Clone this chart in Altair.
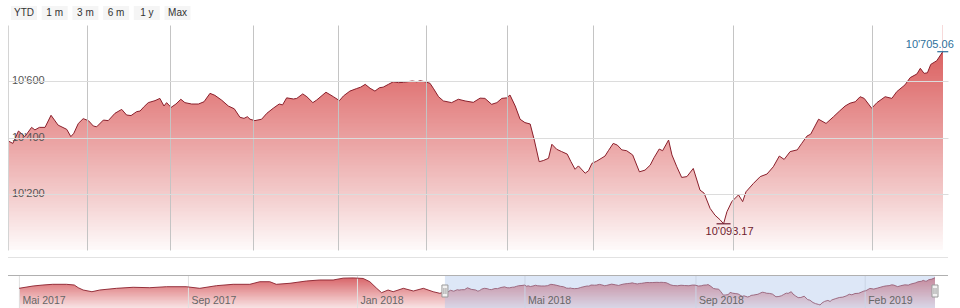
import altair as alt
import numpy as np
import pandas as pd

# ---------------- data ----------------
# earlier history (only visible in the navigator), trading-day index relative to selection start
pre_t = [-217.2, -210, -205, -200, -193, -189, -187, -184.5, -180, -176, -167.5, -159, -150.5,
         -142, -132, -125, -116.5, -108, -99.5, -94.4, -89.3, -86, -79, -70.6, -63.8, -57,
         -51.9, -46.8, -41.7, -38.3, -34.8, -32.3, -29, -26.4, -21.2, -16.1, -11, -6, -2.6]
pre_v = [10467, 10519, 10541, 10557, 10557, 10541, 10481, 10429, 10391, 10429, 10467, 10490, 10481,
         10503, 10503, 10467, 10526, 10557, 10557, 10615, 10615, 10557, 10580, 10631, 10654, 10654,
         10695, 10700, 10688, 10615, 10467, 10369, 10429, 10391, 10467, 10407, 10467, 10391, 10355]

# selected (main chart) period
main_t = [0, 1.3, 2.8, 4.5, 6.3, 7.2, 8.4, 9.9, 11.5, 13.4,
          15.7, 16.8, 17.6, 18.8, 20.1, 21.5, 22.8, 23.7, 25.5, 26.8,
          28.6, 30.4, 31.7, 32.9, 34.4, 35.3, 36.4, 37.5, 39.3, 40.6,
          41.7, 42.4, 43.6, 44.9, 46.2, 47.3, 49.1, 50.9, 52.4, 54,
          55.3, 57.1, 58.9, 60.5, 62, 63.1, 64, 64.7, 66, 67.8,
          69.2, 70.9, 72.5, 73.4, 74.5, 76.3, 77.2, 78.8, 79.9, 81.5,
          82.5, 85, 87, 88.6, 89.7, 91.4, 93.2, 94.3, 95.5, 96.8,
          98.1, 99.3, 100.3, 101.7, 103, 104.4, 105.7, 108.1, 109.3, 110.2,
          111.5, 112.8, 113.7, 115.1, 116.4, 118.6, 120.4, 122.2, 124.4, 126.2,
          127.5, 129.3, 130.7, 132, 133.3, 134.2, 135.6, 136.9, 138.2, 139.6,
          140.7, 142, 143.1, 144.5, 145.4, 146.7, 148, 149.5, 150.5, 151.6,
          152.5, 154.3, 155.2, 156.1, 157.4, 159.6, 160.5, 161.8, 162.9, 164.1,
          165.4, 167, 168.8, 170.3, 171.7, 172.7, 174.1, 175, 176.6, 177.5,
          178.8, 180.1, 181.5, 183.2, 185, 186.1, 187.7, 189, 190.4, 191.3,
          192.2, 193.5, 195.3, 196.4, 197.3, 199.3, 201.1, 202.9, 204.6, 206.2,
          207.5, 209.1, 211, 212.2, 213.6, 214.6, 216.7, 218.7, 220.7, 222.3,
          223.8, 225.1, 226.5, 227.8, 228.9, 230.9, 232.3, 234.5, 236.3, 237.6,
          239.8, 241.2, 243, 243.9, 244.9, 245.8, 246.7, 248.3, 249.9]
main_v = [10388, 10379, 10423, 10403, 10436, 10427, 10436, 10436, 10479, 10444,
          10429, 10403, 10415, 10450, 10467, 10460, 10441, 10438, 10462, 10460,
          10486, 10500, 10480, 10478, 10492, 10494, 10510, 10524, 10531, 10539,
          10512, 10524, 10507, 10519, 10536, 10524, 10519, 10519, 10527, 10557,
          10550, 10533, 10512, 10502, 10472, 10468, 10474, 10465, 10460, 10465,
          10486, 10504, 10519, 10516, 10541, 10537, 10539, 10555, 10545, 10524,
          10533, 10561, 10545, 10531, 10548, 10565, 10574, 10579, 10589, 10575,
          10565, 10577, 10579, 10589, 10598, 10595, 10596, 10601, 10598, 10602,
          10598, 10593, 10575, 10545, 10530, 10524, 10536, 10530, 10525, 10540,
          10539, 10518, 10524, 10539, 10541, 10551, 10512, 10465, 10453, 10448,
          10391, 10314, 10318, 10326, 10376, 10358, 10350, 10341, 10314, 10287,
          10299, 10273, 10282, 10308, 10316, 10334, 10353, 10379, 10373, 10356,
          10353, 10338, 10278, 10284, 10302, 10328, 10359, 10353, 10391, 10338,
          10296, 10258, 10261, 10290, 10213, 10202, 10148, 10124, 10107, 10093.17,
          10136, 10172, 10196, 10172, 10207, 10237, 10261, 10270, 10296, 10334,
          10322, 10350, 10356, 10379, 10405, 10412, 10465, 10450, 10474, 10494,
          10512, 10522, 10527, 10545, 10539, 10504, 10524, 10545, 10539, 10563,
          10587, 10613, 10626, 10646, 10628, 10630, 10660, 10673, 10705.06]

grid_t = [21, 43.3, 65.5, 88.2, 111.8, 133.4, 156.4, 193.9, 231]
nav_tick_t = [-217, -130.8, -44.6, 40.8, 128, 214.3]
nav_tick_labels = ["Mai 2017", "Sep 2017", "Jan 2018", "Mai 2018", "Sep 2018", "Feb 2019"]
y_ticks = [10200, 10400, 10600]
buttons = ["YTD", "1 m", "3 m", "6 m", "1 y", "Max"]

# ---------------- setup ----------------
W, H = 940, 225
FONT = "Liberation Sans"
LINE_COLOR = "#8a1f2b"

main_df = pd.DataFrame({"t": main_t, "v": main_v})
full_df = pd.DataFrame({"t": pre_t + main_t, "v": pre_v + main_v})

Y_LO, Y_HI = 10000, 10800
X_MAIN = alt.Scale(domain=[0, 251.3], nice=False, zero=False)
Y_MAIN = alt.Scale(domain=[Y_LO, Y_HI], nice=False, zero=False)
NAV_MIN, NAV_MAX = 10026, 10743
X_NAV = alt.Scale(domain=[pre_t[0], main_t[-1]], range=[11, 927], nice=False, zero=False)
Y_NAV = alt.Scale(domain=[NAV_MIN, NAV_MAX], range=[283, 251], nice=False, zero=False)


def fmt(v):
    return f"{v:,.2f}".replace(",", "'")


def interp_color(f, stops):
    # stops: list of (offset, (r,g,b)); f: 0 = top of area, 1 = bottom
    for (o0, c0), (o1, c1) in zip(stops[:-1], stops[1:]):
        if f <= o1:
            k = 0 if o1 == o0 else (f - o0) / (o1 - o0)
            c = [round(a + (b - a) * k) for a, b in zip(c0, c1)]
            return "#%02x%02x%02x" % tuple(c)
    return "#%02x%02x%02x" % tuple(stops[-1][1])


MAIN_STOPS = [(0.0, (219, 98, 98)), (0.2, (226, 126, 126)), (0.5, (236, 170, 170)),
              (0.75, (244, 208, 208)), (1.0, (254, 250, 250))]
NAV_STOPS = [(0.0, (216, 100, 104)), (1.0, (248, 226, 227))]


def band_frame(lo, hi, top, step, stops, x0, x1):
    edges = np.arange(lo, hi, step)
    f = np.clip((top - edges) / (top - lo), 0, 1)
    return pd.DataFrame({"y0": edges, "y1": hi, "x0": x0, "x1": x1,
                         "c": [interp_color(v, stops) for v in f]})


# vertical gradient fill, drawn as thin horizontal bands (each overlapping the next)
main_bands = band_frame(Y_LO, Y_HI, max(main_v), 3.2, MAIN_STOPS, main_t[0], main_t[-1])
nav_bands = band_frame(NAV_MIN, NAV_MAX, max(pre_v + main_v), 18, NAV_STOPS, pre_t[0], main_t[-1])

# ---------------- main chart ----------------
fill_main = alt.Chart(main_bands).mark_rect().encode(
    x=alt.X("x0:Q", scale=X_MAIN,
            axis=alt.Axis(values=grid_t, grid=True, gridColor="#c4c4c4", labels=False,
                          ticks=False, domain=False, title=None, zindex=1)),
    x2="x1:Q",
    y=alt.Y("y0:Q", scale=Y_MAIN,
            axis=alt.Axis(values=y_ticks, grid=True, gridColor="#dcdcdc", labels=False,
                          ticks=False, domain=True, domainColor="#d4d4d4", title=None, zindex=1)),
    y2="y1:Q",
    color=alt.Color("c:N", scale=None),
    order=alt.Order("y0:Q"),
)
# white above the curve hides the part of the bands that lies above the series
cover_main = alt.Chart(main_df).mark_area(color="white").encode(
    x=alt.X("t:Q", scale=X_MAIN, axis=None),
    y=alt.Y("v:Q", scale=Y_MAIN, axis=None),
    y2=alt.datum(Y_HI),
)
line_main = alt.Chart(main_df).mark_line(color=LINE_COLOR, strokeWidth=1).encode(
    x=alt.X("t:Q", scale=X_MAIN, axis=None),
    y=alt.Y("v:Q", scale=Y_MAIN, axis=None),
)
ylab = alt.Chart(pd.DataFrame({"v": y_ticks})).transform_calculate(
    lab="replace(format(datum.v, ','), ',', \"'\")"
).mark_text(align="left", baseline="middle", dx=4, font=FONT, fontSize=11, color="#555555").encode(
    x=alt.value(0),
    y=alt.Y("v:Q", scale=Y_MAIN, axis=None),
    text="lab:N",
)

imax = main_v.index(max(main_v))
imin = main_v.index(min(main_v))
max_df = pd.DataFrame({"t": [main_t[imax]], "v": [main_v[imax]], "lab": [fmt(main_v[imax])]})
min_df = pd.DataFrame({"t": [main_t[imin]], "v": [main_v[imin]], "lab": [fmt(main_v[imin])]})
MAX_C, MIN_C = "#2d6f9b", "#6f1c2f"

max_txt = alt.Chart(max_df).mark_text(dx=-13, dy=-7, font=FONT, fontSize=11, color=MAX_C,
                                      baseline="middle").encode(
    x=alt.X("t:Q", scale=X_MAIN, axis=None), y=alt.Y("v:Q", scale=Y_MAIN, axis=None), text="lab:N")
max_mark = alt.Chart(max_df).mark_point(shape="M-1,0L1,0", size=121, stroke=MAX_C, strokeWidth=1.2,
                                        filled=False, opacity=1).encode(
    x=alt.X("t:Q", scale=X_MAIN, axis=None), y=alt.Y("v:Q", scale=Y_MAIN, axis=None))
min_txt = alt.Chart(min_df).mark_text(dx=6, dy=8, font=FONT, fontSize=11, color=MIN_C,
                                      baseline="middle").encode(
    x=alt.X("t:Q", scale=X_MAIN, axis=None), y=alt.Y("v:Q", scale=Y_MAIN, axis=None), text="lab:N")
min_mark = alt.Chart(min_df).mark_point(shape="M-1,0L1,0", size=196, stroke=MIN_C, strokeWidth=1.2,
                                        filled=False, opacity=1).encode(
    x=alt.X("t:Q", scale=X_MAIN, axis=None), y=alt.Y("v:Q", scale=Y_MAIN, axis=None))

# separator lines
sep_df = pd.DataFrame({"k": [0]})
sep1 = alt.Chart(sep_df).mark_rule(color="#e2e2e2", strokeWidth=1).encode(
    x=alt.value(0), x2=alt.value(W), y=alt.value(232.5))
sep2 = alt.Chart(sep_df).mark_rule(color="#b0b0b0", strokeWidth=1).encode(
    x=alt.value(0), x2=alt.value(W), y=alt.value(250.5))

# ---------------- navigator ----------------
nav_ticks_df = pd.DataFrame({"t": nav_tick_t, "lab": nav_tick_labels})
nav_fill = alt.Chart(nav_bands).mark_rect().encode(
    x=alt.X("x0:Q", scale=X_NAV, axis=None), x2="x1:Q",
    y=alt.Y("y0:Q", scale=Y_NAV, axis=None), y2="y1:Q",
    color=alt.Color("c:N", scale=None),
    order=alt.Order("y0:Q"),
)
nav_cover = alt.Chart(full_df).mark_area(color="white").encode(
    x=alt.X("t:Q", scale=X_NAV, axis=None),
    y=alt.Y("v:Q", scale=Y_NAV, axis=None),
    y2=alt.datum(NAV_MAX),
)
nav_grid = alt.Chart(nav_ticks_df).mark_rule(color="#e0e0e0", strokeWidth=1).encode(
    x=alt.X("t:Q", scale=X_NAV, axis=None), y=alt.value(251), y2=alt.value(283))
nav_line = alt.Chart(full_df).mark_line(color=LINE_COLOR, strokeWidth=0.9).encode(
    x=alt.X("t:Q", scale=X_NAV, axis=None),
    y=alt.Y("v:Q", scale=Y_NAV, axis=None),
)
mask_df = pd.DataFrame({"a": [main_t[0]], "b": [main_t[-1]]})
nav_mask = alt.Chart(mask_df).mark_rect(color="#a9c4ea", opacity=0.4).encode(
    x=alt.X("a:Q", scale=X_NAV, axis=None), x2="b:Q", y=alt.value(251), y2=alt.value(283))
handle_df = pd.DataFrame({"t": [main_t[0], main_t[-1]]})
handles = alt.Chart(handle_df).mark_point(
    shape="M-0.5,-1L0.5,-1L0.5,1L-0.5,1Z", size=144, filled=True, fill="#f2f2f2",
    stroke="#999999", strokeWidth=1, opacity=1).encode(
    x=alt.X("t:Q", scale=X_NAV, axis=None), y=alt.value(266))
handle_lines = alt.Chart(handle_df).mark_point(
    shape="M-0.17,-0.5L-0.17,0.5M0.17,-0.5L0.17,0.5", size=144, filled=False,
    stroke="#888888", strokeWidth=0.8, opacity=1).encode(
    x=alt.X("t:Q", scale=X_NAV, axis=None), y=alt.value(266))
nav_labels = alt.Chart(nav_ticks_df).mark_text(
    align="left", baseline="middle", dx=3, font=FONT, fontSize=10.5, color="#666666").encode(
    x=alt.X("t:Q", scale=X_NAV, axis=None), y=alt.value(276), text="lab:N")

# ---------------- range selector buttons ----------------
btn_df = pd.DataFrame({"lab": buttons, "i": list(range(len(buttons)))})
btn_base = alt.Chart(btn_df).transform_calculate(
    cx="16 + 30.7 * datum.i", x1="datum.cx - 13", x2="datum.cx + 13")
btn_rect = btn_base.mark_rect(color="#f5f5f5").encode(
    x=alt.X("x1:Q", scale=None), x2="x2:Q", y=alt.value(-19), y2=alt.value(-5))
btn_text = btn_base.mark_text(font=FONT, fontSize=10, color="#333333", baseline="middle").encode(
    x=alt.X("cx:Q", scale=None), y=alt.value(-12), text="lab:N")

chart = alt.layer(
    fill_main, cover_main, line_main, ylab, max_mark, max_txt, min_mark, min_txt,
    sep1, sep2, nav_fill, nav_cover, nav_grid, nav_line, nav_mask, handles, handle_lines,
    nav_labels, btn_rect, btn_text,
).resolve_scale(x="independent", y="independent").properties(
    width=W, height=H,
    autosize=alt.AutoSizeParams(type="none"),
    padding={"left": 8, "top": 25, "right": 12, "bottom": 58},
    background="white",
).configure_view(stroke=None)

chart.save("out.html", embed_options={"renderer": "svg", "actions": False})
